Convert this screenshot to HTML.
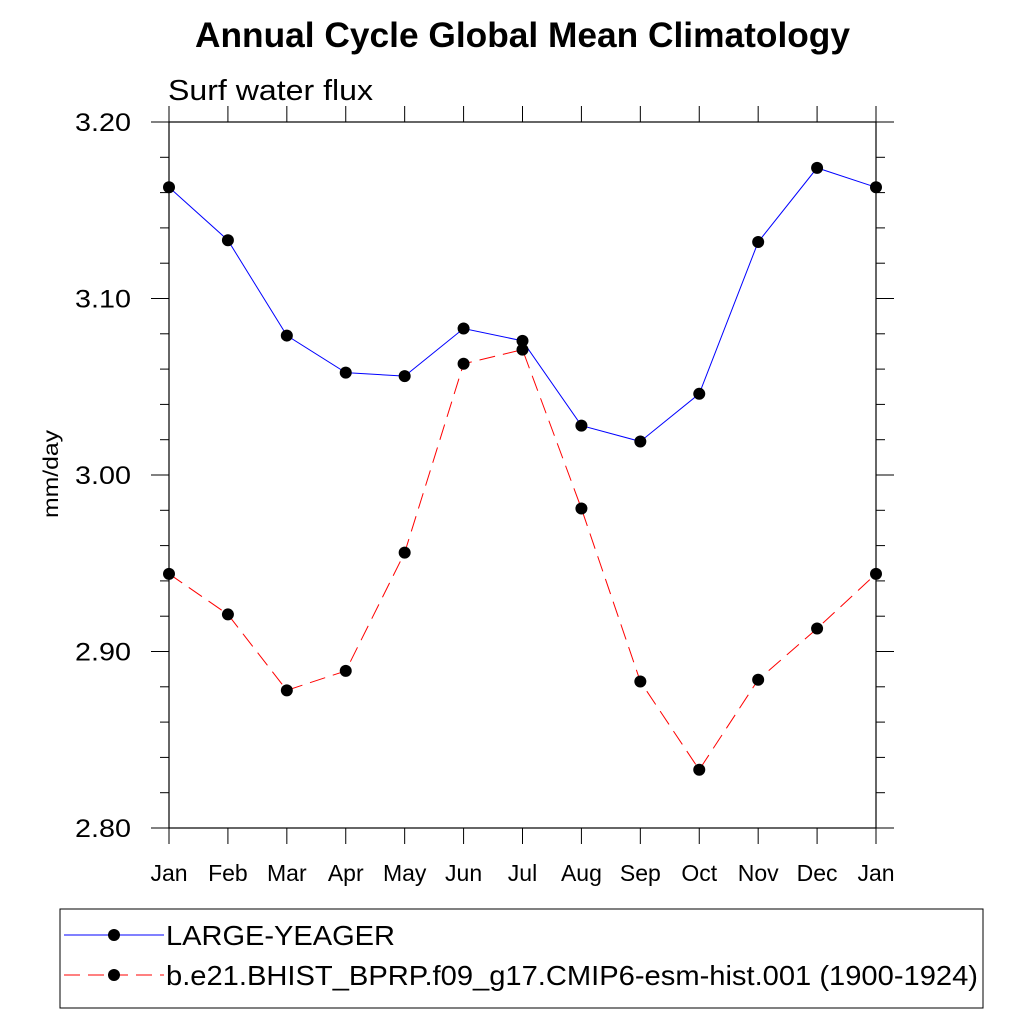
<!DOCTYPE html>
<html><head><meta charset="utf-8"><style>body{margin:0;background:#fff}svg{display:block}text{font-family:"Liberation Sans",sans-serif}</style></head>
<body>
<svg id="chart" width="1024" height="1024" xmlns="http://www.w3.org/2000/svg">
<text x="195" y="47" font-size="35" font-weight="bold" textLength="655" lengthAdjust="spacingAndGlyphs">Annual Cycle Global Mean Climatology</text>
<text x="168" y="100" font-size="29" textLength="205" lengthAdjust="spacingAndGlyphs">Surf water flux</text>
<text transform="translate(58,474) rotate(-90)" text-anchor="middle" font-size="21" textLength="88" lengthAdjust="spacingAndGlyphs">mm/day</text>
<rect x="169" y="122" width="707" height="706" fill="none" stroke="#000" stroke-width="1.2"/>
<g id="ticks"></g><g id="series"></g>
<rect x="60" y="909" width="923" height="99" fill="none" stroke="#000" stroke-width="1"/>
<g>
<line x1="64" y1="935" x2="164" y2="935" stroke="#00f" stroke-width="1"/><circle cx="114" cy="935" r="6"/>
<text x="166" y="945" font-size="28" textLength="229" lengthAdjust="spacingAndGlyphs">LARGE-YEAGER</text></g>
<g>
<line x1="64" y1="975" x2="164" y2="975" stroke="#f00" stroke-width="1" stroke-dasharray="16,8"/><circle cx="114" cy="975" r="6"/>
<text x="166" y="985" font-size="28" textLength="812" lengthAdjust="spacingAndGlyphs">b.e21.BHIST_BPRP.f09_g17.CMIP6-esm-hist.001 (1900-1924)</text></g>
</svg>
<script>
const months=["Jan","Feb","Mar","Apr","May","Jun","Jul","Aug","Sep","Oct","Nov","Dec","Jan"];
const largeYeager=[3.163,3.133,3.079,3.058,3.056,3.083,3.076,3.028,3.019,3.046,3.132,3.174,3.163];
const bhist=[2.944,2.921,2.878,2.889,2.956,3.063,3.071,2.981,2.883,2.833,2.884,2.913,2.944];
const yTicks=[2.80,2.90,3.00,3.10,3.20];
const NS="http://www.w3.org/2000/svg";
const X0=169,X1=876,Y0=828,Y1=122,ymin=2.8,ymax=3.2;
const xs=i=>X0+(X1-X0)*i/(months.length-1);
const ys=v=>Y0-(v-ymin)/(ymax-ymin)*(Y0-Y1);
const tg=document.getElementById('ticks'),sg=document.getElementById('series');
function mk(tag,at,p){const e=document.createElementNS(NS,tag);for(const k in at)e.setAttribute(k,at[k]);p.appendChild(e);return e;}
function ln(x1,y1,x2,y2){mk('line',{x1,y1,x2,y2,stroke:'#000','stroke-width':1},tg);}
months.forEach((m,i)=>{const x=xs(i);ln(x,Y0,x,Y0+16);ln(x,Y1,x,Y1-16);
const t=mk('text',{x:x,y:881,'text-anchor':'middle','font-size':23},tg);t.textContent=m;

});
for(let v=ymin;v<=ymax+1e-9;v+=0.02){const y=ys(v);const major=Math.abs(Math.round(v*10)-v*10)<1e-6;const L=major?18:9;ln(X0-L,y,X0,y);ln(X1,y,X1+L,y);}
yTicks.forEach(v=>{const t=mk('text',{x:131,y:ys(v)+9,'text-anchor':'end','font-size':25,textLength:56,lengthAdjust:'spacingAndGlyphs'},tg);t.textContent=v.toFixed(2);

});
function series(vals,color,dash,name){
const p=mk('polyline',{points:vals.map((v,i)=>xs(i)+','+ys(v)).join(' '),fill:'none',stroke:color,'stroke-width':1,'stroke-dasharray':dash},sg);


vals.forEach((v,i)=>{const c=mk('circle',{cx:xs(i),cy:ys(v),r:6,fill:'#000'},sg);

});}
series(largeYeager,'#00f','none','large-yeager');
series(bhist,'#f00','16,8','bhist');
</script>
</body></html>
